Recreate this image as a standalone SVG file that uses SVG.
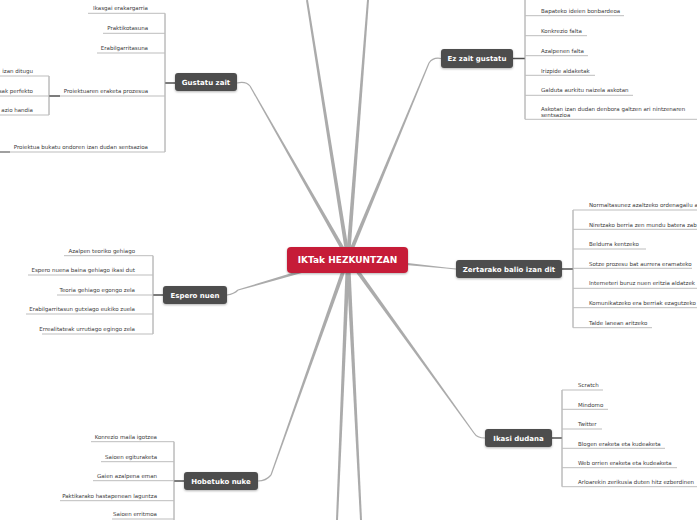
<svg xmlns="http://www.w3.org/2000/svg" width="697" height="520" viewBox="0 0 697 520">
<defs>
<filter id="sh" x="-10%" y="-20%" width="120%" height="150%"><feDropShadow dx="0" dy="1" stdDeviation="0.8" flood-color="#000" flood-opacity="0.3"/></filter>
</defs>
<style>
.br{fill:#ababab}
.cv{fill:none;stroke:#ababab;stroke-width:1.2}
.vl{stroke:#9a9a9a;stroke-width:1;fill:none}
.ul{stroke:#bdbdbd;stroke-width:1;fill:none}
.lk{stroke:#505050;stroke-width:1.5;fill:none}
.nd{fill:#4e4e4e;filter:url(#sh)}
.ct{fill:#c61f37;filter:url(#sh)}
.nt{font-family:"DejaVu Sans",Verdana,sans-serif;font-weight:bold;font-size:7px;fill:#fff;text-anchor:middle}
.mt{font-family:"DejaVu Sans",Verdana,sans-serif;font-weight:bold;font-size:9px;fill:#fff;text-anchor:middle}
.t{font-family:"DejaVu Sans",Verdana,sans-serif;font-size:5.5px;fill:#3a3a3a}
.e{text-anchor:end}
</style>
<rect width="697" height="520" fill="#fff"/>
<g id="connectors">
<polygon class="br" points="349.98,257.69 307.99,-0.16 306.01,0.16 346.02,258.31"/>
<polygon class="br" points="349.99,258.15 369,0.08 367,-0.08 346.01,257.85"/>
<polygon class="br" points="346,257.92 336,519.96 338,520.04 350,258.08"/>
<polygon class="br" points="346,258.1 360,520.05 362,519.95 350,257.9"/>
<polygon class="br" points="349.74,257.01 250.52,85.7 249.48,86.3 346.26,258.99"/>
<polygon class="br" points="349.85,258.77 429.55,63.23 428.45,62.77 346.15,257.23"/>
<polygon class="br" points="347.44,256.08 237.83,289.42 238.17,290.58 348.56,259.92"/>
<polygon class="br" points="347.8,259.99 445.94,268.6 446.06,267.4 348.2,256.01"/>
<polygon class="br" points="346.38,259.17 473.51,433.35 474.49,432.65 349.62,256.83"/>
<polygon class="br" points="346.12,257.33 270.44,474.8 271.56,475.2 349.88,258.67"/>
<path class="cv" d="M250 86 Q246 81 237 83"/>
<path class="cv" d="M429 63 Q433 57 441 58.5"/>
<path class="cv" d="M227 295 Q234 294 238 290"/>
<path class="cv" d="M446 268 L456 269"/>
<path class="cv" d="M474 433 Q477 438 485 438"/>
<path class="cv" d="M271 475 Q266 481 258 481"/>
<!-- Gustatu zait -->
<path class="lk" d="M165 83 H175"/>
<path class="vl" d="M165 13.3 V152"/>
<path class="ul" d="M88 13.3 H165 M103 33.3 H165 M97 53 H165 M60 96 H165 M0 152 H165"/>
<path d="M0 152 H10" stroke="#a0a0a0" stroke-width="2"/>
<path class="lk" d="M49 96 H60"/>
<path class="vl" d="M49 76 V115"/>
<path class="ul" d="M0 76 H49 M0 96 H49 M0 115 H49"/>
<!-- Ez zait gustatu -->
<path class="lk" d="M513 58.5 H525"/>
<path class="vl" d="M525 0 V119.3"/>
<path class="ul" d="M525 15.7 H624 M525 35.7 H587 M525 55.7 H588 M525 75.3 H595 M525 95.3 H633 M525 119.3 H697"/>
<!-- Espero nuen -->
<path class="lk" d="M153 295 H163"/>
<path class="vl" d="M153 255.7 V334"/>
<path class="ul" d="M64 255.7 H153 M28 275 H153 M57 295 H153 M26 314 H153 M42 334 H153"/>
<!-- Zertarako -->
<path class="lk" d="M562 269 H573"/>
<path class="vl" d="M573 210 V327.7"/>
<path class="ul" d="M573 210 H697 M573 229.3 H697 M573 249 H646 M573 268.3 H692 M573 288.3 H697 M573 307.7 H697 M573 327.7 H652"/>
<!-- Ikasi dudana -->
<path class="lk" d="M552 438 H562"/>
<path class="vl" d="M562 390 V486.7"/>
<path class="ul" d="M562 390 H603 M562 409.3 H608 M562 429 H602 M562 448.3 H665 M562 467.7 H677 M562 486.7 H697"/>
<!-- Hobetuko nuke -->
<path class="lk" d="M174 481 H184"/>
<path class="vl" d="M174 441.7 V520"/>
<path class="ul" d="M91 441.7 H174 M101 461.7 H174 M93 480.7 H174 M60 500.7 H174 M112 519 H174"/>
</g>
<g id="node-center">
<rect class="ct" x="287" y="247" width="121" height="26" rx="4"/>
<text class="mt" x="347.5" y="263.2">IKTak HEZKUNTZAN</text>
</g>
<g id="node-gustatu">
<rect class="nd" x="175" y="73" width="62" height="18" rx="3"/>
<text class="nt" x="206" y="84.6">Gustatu zait</text>
<text class="t e" x="148" y="10">Ikasgai erakargarria</text>
<text class="t e" x="148" y="30">Praktikotasuna</text>
<text class="t e" x="148" y="49.5">Erabilgarritasuna</text>
<text class="t e" x="148" y="92.5">Proiektuaren eraketa prozesua</text>
<text class="t e" x="148" y="148.5">Proiektua bukatu ondoren izan dudan sentsazioa</text>
<text class="t e" x="33" y="72.5">izan ditugu</text>
<text class="t e" x="33" y="92.5">sak perfekto</text>
<text class="t e" x="33" y="111.5">azio handia</text>
</g>
<g id="node-ezzait">
<rect class="nd" x="441" y="49" width="72" height="19" rx="3"/>
<text class="nt" x="477" y="61">Ez zait gustatu</text>
<text class="t" x="541" y="13">Bapateko ideien bonbardeoa</text>
<text class="t" x="541" y="33">Konkrezio falta</text>
<text class="t" x="541" y="53">Azalpenen falta</text>
<text class="t" x="541" y="72.5">Irizpide aldaketak</text>
<text class="t" x="541" y="92">Galduta aurkitu naizela askotan</text>
<text class="t" x="541" y="111">Askotan izan dudan denbora galtzen ari nintzenaren</text>
<text class="t" x="541" y="117">sentsazioa</text>
</g>
<g id="node-espero">
<rect class="nd" x="163" y="286" width="64" height="18" rx="3"/>
<text class="nt" x="195" y="297.6">Espero nuen</text>
<text class="t e" x="135" y="252.5">Azalpen teoriko gehiago</text>
<text class="t e" x="135" y="272">Espero nuena baina gehiago ikasi dut</text>
<text class="t e" x="135" y="291.5">Teoria gehiago egongo zela</text>
<text class="t e" x="135" y="311">Erabilgarritasun gutxiago eukiko zuela</text>
<text class="t e" x="135" y="330.5">Errealitateak urrutiago egingo zela</text>
</g>
<g id="node-zertarako">
<rect class="nd" x="456" y="260" width="106" height="18" rx="3"/>
<text class="nt" x="509" y="271.6">Zertarako balio izan dit</text>
<text class="t" x="589" y="207">Normaltasunez azaltzeko ordenagailu a</text>
<text class="t" x="589" y="226.5">Niretzako berria zen mundu batera zab</text>
<text class="t" x="589" y="246">Beldurra kentzeko</text>
<text class="t" x="589" y="265.5">Sotze prozesu bat aurrera eramateko</text>
<text class="t" x="589" y="285">Interneteri buruz nuen eritzia aldatzek</text>
<text class="t" x="589" y="304.5">Komunikatzeko era berriak ezagutzeko</text>
<text class="t" x="589" y="324.5">Talde lanean aritzeko</text>
</g>
<g id="node-ikasi">
<rect class="nd" x="485" y="429" width="67" height="18" rx="3"/>
<text class="nt" x="518.5" y="440.6">Ikasi dudana</text>
<text class="t" x="578" y="387">Scratch</text>
<text class="t" x="578" y="406.5">Mindomo</text>
<text class="t" x="578" y="426">Twitter</text>
<text class="t" x="578" y="445.5">Blogen eraketa eta kudeaketa</text>
<text class="t" x="578" y="465">Web orrien eraketa eta kudeaketa</text>
<text class="t" x="578" y="484">Arloarekin zerikusia duten hitz ezberdinen</text>
</g>
<g id="node-hobetuko">
<rect class="nd" x="184" y="472" width="74" height="18" rx="3"/>
<text class="nt" x="221" y="483.6">Hobetuko nuke</text>
<text class="t e" x="157" y="438.5">Konrezio maila igotzea</text>
<text class="t e" x="157" y="458.5">Saioen egituraketa</text>
<text class="t e" x="157" y="477.5">Gaien azalpena eman</text>
<text class="t e" x="157" y="497.5">Paktikarako hastapenean laguntza</text>
<text class="t e" x="157" y="516">Saioen erritmoa</text>
</g>
</svg>
